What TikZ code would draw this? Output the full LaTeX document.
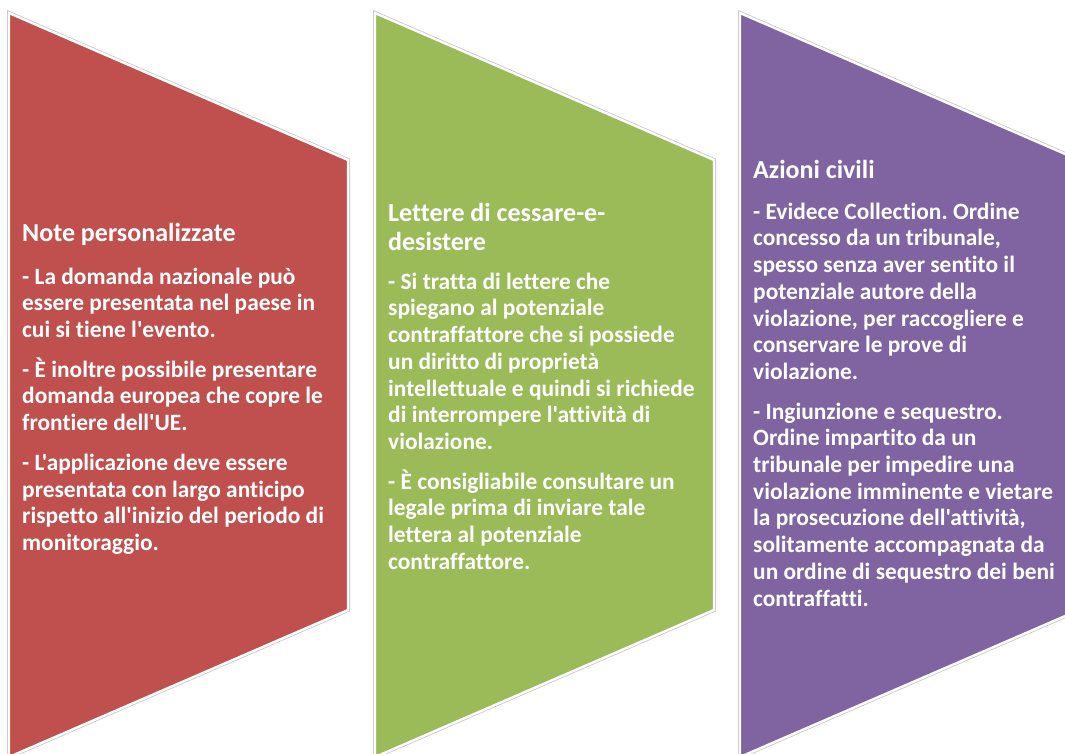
\documentclass[tikz,border=0pt]{standalone}
\usepackage{fontspec}
\setmainfont{Carlito}[Ligatures={TeXOff,CommonOff}]
\frenchspacing
\definecolor{cred}{HTML}{C0504D}
\definecolor{cgreen}{HTML}{9BBB59}
\definecolor{cpurple}{HTML}{8064A2}
\tikzset{
  shadeline/.style={draw=black!22, line width=4pt, line join=miter},
  panel/.style={fill=#1, draw=white, line width=2.4pt, line join=miter},
  ttl/.style={anchor=north west, inner sep=0pt, text=white, align=left,
    font=\fontsize{26}{29}\selectfont\bfseries},
  body/.style={anchor=north west, inner sep=0pt, text=white, align=left,
    font=\fontsize{23.4}{26.7}\selectfont\bfseries},
}
\begin{document}
\begin{tikzpicture}[x=1pt,y=-1pt]
\useasboundingbox (0,0) rectangle (1065,753);
% panels
\foreach \xx/\cc in {9/cred,375/cgreen,740/cpurple}{
  \path[shadeline] (\xx,13) -- (\xx+339,160) -- (\xx+339,610) -- (\xx,757) -- cycle;
  \path[panel=\cc] (\xx,13) -- (\xx+339,160) -- (\xx+339,610) -- (\xx,757) -- cycle;
}
% red  (baseline of first line = y + 0.7*baselineskip)
\node[ttl] (t1) at (22,241-20.3) {\strut Note personalizzate};
\node[body] (b1) at (22,284-18.7) {\strut- La domanda nazionale può\\
essere presentata nel paese in\\
cui si tiene l'evento.\\[13pt]
- È inoltre possibile presentare\\
domanda europea che copre le\\
frontiere dell'UE.\\[13pt]
- L'applicazione deve essere\\
presentata con largo anticipo\\
rispetto all'inizio del periodo di\\
monitoraggio.};
% green
\node[ttl] (t2) at (388,221-20.3) {\strut Lettere di cessare-e-\\desistere};
\node[body] (b2) at (388,289-18.7) {\strut- Si tratta di lettere che\\
spiegano al potenziale\\
contraffattore che si possiede\\
un diritto di proprietà\\
intellettuale e quindi si richiede\\
di interrompere l'attività di\\
violazione.\\[13pt]
- È consigliabile consultare un\\
legale prima di inviare tale\\
lettera al potenziale\\
contraffattore.};
% purple
\node[ttl] (t3) at (753,178-20.3) {\strut Azioni civili};
\node[body] (b3) at (753,219-18.7) {\strut- Evidece Collection. Ordine\\
concesso da un tribunale,\\
spesso senza aver sentito il\\
potenziale autore della\\
violazione, per raccogliere e\\
conservare le prove di\\
violazione.\\[13pt]
- Ingiunzione e sequestro.\\
Ordine impartito da un\\
tribunale per impedire una\\
violazione imminente e vietare\\
la prosecuzione dell'attività,\\
solitamente accompagnata da\\
un ordine di sequestro dei beni\\
contraffatti.};
\end{tikzpicture}
\end{document}
